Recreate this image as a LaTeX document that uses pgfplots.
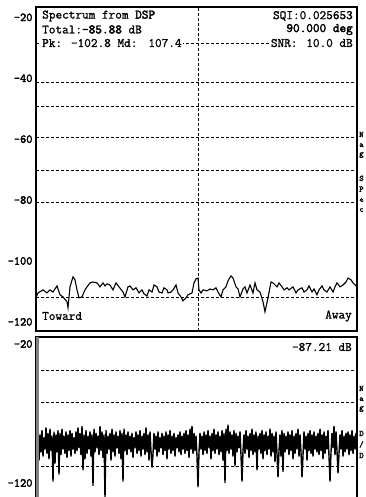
\documentclass[border=0pt]{standalone}
\usepackage{fontspec}
\setmainfont{Latin Modern Mono}[FakeBold=1.2]
\newfontfamily\heavy{Latin Modern Mono}[FakeBold=2.6]
\usepackage{pgfplots}
\pgfplotsset{compat=1.18}
\pgfplotstableread{
x y
0 -112.1
2 -110.5
7 -109.5
11 -110.5
14 -109.5
17 -110.2
21 -108.2
24 -111.1
27 -111.8
31 -113.4
32 -115.4
34 -108.5
37 -105.2
39 -106.2
41 -109.5
43 -112.1
46 -111.8
49 -109.5
51 -108.5
54 -107.2
57 -106.9
61 -107.2
64 -108.5
67 -107.2
69 -108.2
71 -107.5
74 -107.9
77 -109.5
80 -107.2
83 -108.5
87 -110.2
89 -111.8
92 -108.5
94 -108.2
97 -109.5
100 -108.8
103 -110.5
106 -109.5
108 -110.8
111 -111.5
113 -109.5
116 -110.2
118 -107.9
121 -108.5
123 -110.2
126 -110.5
128 -108.8
131 -109.5
132 -110.5
135 -110.2
137 -109.5
140 -107.9
142 -110.5
145 -111.8
147 -113.1
150 -112.1
152 -111.1
156 -110.5
158 -107.2
160 -105.9
162 -105.6
163 -109.5
165 -110.5
167 -109.5
171 -109.8
174 -109.2
177 -109.5
180 -108.8
182 -110.2
185 -111.8
187 -109.5
190 -108.5
192 -106.5
195 -104.9
197 -105.6
200 -108.5
202 -109.2
204 -111.8
207 -109.2
209 -108.5
211 -110.5
214 -107.9
217 -110.5
219 -107.2
221 -109.5
224 -110.2
227 -113.4
229 -116.7
232 -112.1
235 -106.9
237 -107.2
241 -108.5
243 -107.2
246 -108.5
248 -109.5
251 -108.8
253 -109.5
257 -108.5
260 -110.5
262 -109.5
266 -108.8
268 -110.2
271 -109.5
273 -108.2
276 -110.2
278 -109.2
281 -111.1
283 -109.5
286 -108.2
288 -109.5
291 -110.2
294 -108.5
297 -110.2
299 -108.5
301 -107.2
304 -108.5
307 -107.9
310 -106.9
312 -105.6
315 -106.2
317 -107.2
321 -108.5
}\toptrace
\pgfplotstableread{
x y
0 -86
1 -100
2 -83
3 -104
4 -85
5 -98
6 -82
7 -101
8 -87
9 -96
10 -80
11 -99
12 -84
13 -103
14 -81
15 -97
16 -86
17 -119
18 -83
19 -106
20 -85
21 -98
22 -82
23 -114
24 -84
25 -100
26 -81
27 -96
28 -86
29 -99
30 -83
31 -102
32 -85
33 -97
34 -82
35 -101
36 -84
37 -96
38 -87
39 -99
40 -83
41 -97
42 -80
43 -95
44 -84
45 -100
46 -79
47 -111
48 -85
49 -103
50 -82
51 -99
52 -86
53 -96
54 -83
55 -101
56 -85
57 -122
58 -81
59 -98
60 -84
61 -95
62 -86
63 -100
64 -79
65 -97
66 -83
67 -102
68 -85
69 -131
70 -82
71 -99
72 -86
73 -96
74 -84
75 -104
76 -81
77 -98
78 -85
79 -101
80 -83
81 -95
82 -86
83 -99
84 -82
85 -103
86 -84
87 -119
88 -81
89 -97
90 -85
91 -100
92 -83
93 -96
94 -86
95 -98
96 -84
97 -102
98 -87
99 -95
100 -83
101 -99
102 -85
103 -97
104 -82
105 -101
106 -86
107 -96
108 -84
109 -100
110 -80
111 -98
112 -85
113 -104
114 -83
115 -97
116 -109
117 -99
118 -84
119 -96
120 -86
121 -101
122 -83
123 -98
124 -87
125 -95
126 -84
127 -100
128 -86
129 -97
130 -83
131 -103
132 -85
133 -96
134 -82
135 -99
136 -86
137 -97
138 -84
139 -101
140 -87
141 -95
142 -85
143 -98
144 -83
145 -100
146 -86
147 -96
148 -84
149 -99
150 -82
151 -97
152 -85
153 -102
154 -81
155 -96
156 -79
157 -99
158 -84
159 -97
160 -86
161 -101
162 -123
163 -98
164 -84
165 -96
166 -86
167 -100
168 -83
169 -97
170 -85
171 -99
172 -82
173 -95
174 -86
175 -103
176 -84
177 -97
178 -81
179 -99
180 -85
181 -96
182 -83
183 -100
184 -86
185 -98
186 -82
187 -104
188 -84
189 -120
190 -81
191 -97
192 -78
193 -99
194 -83
195 -96
196 -85
197 -101
198 -82
199 -108
200 -84
201 -98
202 -86
203 -95
204 -83
205 -100
206 -119
207 -97
208 -85
209 -99
210 -82
211 -96
212 -86
213 -102
214 -84
215 -97
216 -81
217 -100
218 -85
219 -98
220 -83
221 -111
222 -86
223 -96
224 -84
225 -99
226 -82
227 -103
228 -85
229 -97
230 -83
231 -100
232 -86
233 -96
234 -81
235 -101
236 -84
237 -98
238 -86
239 -105
240 -83
241 -99
242 -116
243 -97
244 -85
245 -101
246 -82
247 -112
248 -84
249 -98
250 -86
251 -96
252 -83
253 -100
254 -85
255 -97
256 -82
257 -103
258 -86
259 -99
260 -84
261 -96
262 -81
263 -101
264 -85
265 -98
266 -116
267 -100
268 -83
269 -96
270 -86
271 -104
272 -84
273 -97
274 -82
275 -99
276 -85
277 -101
278 -83
279 -96
280 -86
281 -98
282 -84
283 -100
284 -81
285 -97
286 -85
287 -103
288 -83
289 -99
290 -86
291 -96
292 -82
293 -101
294 -119
295 -98
296 -84
297 -95
298 -79
299 -100
300 -83
301 -97
302 -113
303 -99
304 -85
305 -96
306 -82
307 -101
308 -86
309 -98
310 -84
311 -96
312 -83
313 -100
314 -85
315 -97
316 -82
317 -99
318 -86
319 -96
320 -84
321 -98
}\bottrace
\pgfplotsset{
  monitor/.style={
    scale only axis, width=321pt, xmin=0, xmax=321,
    xtick=\empty, tick style={draw=none},
    axis line style={line width=1.3pt},
    /pgf/number format/assume math mode=true,
    yticklabel style={font=\heavy\fontsize{12}{12}\selectfont, xshift=0pt},
    major grid style={black, line width=0.7pt, dash pattern=on 3pt off 2pt},
    extra tick style={grid=major},
    extra y tick labels={},
    clip=true,
  }
}
\begin{document}
\begin{tikzpicture}[x=1pt,y=1pt]
\useasboundingbox (0,0) rectangle (365,-497);
\clip (0,0) rectangle (365,-497);
\fill[white] (0,0) rectangle (365,-497);
\begin{axis}[monitor, at={(36pt,-7pt)}, anchor=north west, height=324pt,
  ymin=-123, ymax=-16.6, ytick={-20,-40,-60,-80,-100,-120},
  extra y ticks={-28.6,-41.2,-49.1,-59.3,-70.1,-80.6,-112.1},
  extra x ticks={162}, extra x tick labels={}]
\addplot[black, line width=1.1pt] table[x=x,y=y] {\toptrace};
\end{axis}
\begin{axis}[monitor, at={(36pt,-337pt)}, anchor=north west, height=170pt,
  ymin=-137.3, ymax=-15, ytick={-20,-120},
  extra y ticks={-38.7,-61.7,-107.8}]
\addplot[black, line width=1.4pt] table[x=x,y=y] {\bottrace};
\end{axis}
\draw[gray, line width=2.5pt] (37.5,-337) -- (37.5,-497);
\begin{scope}[every node/.style={inner sep=1pt, font=\fontsize{12.9}{13}\selectfont}]
\node[anchor=west] at (41,-16) {Spectrum from {\heavy DSP}};
\node[anchor=west] at (41,-29.5) {Total:{\heavy -85.88} dB};
\node[anchor=west, fill=white] at (41,-43) {Pk: -102.8 Md: \,107.4};
\node[anchor=east] at (354,-16) {SQI:0.025653};
\node[anchor=east] at (354,-29.5) {{\heavy 90.000 deg}};
\node[anchor=east, fill=white] at (354,-43) {SNR: \,10.0 dB};
\node[anchor=west] at (41,-316) {Toward};
\node[anchor=east] at (353,-316) {Away};
\node[anchor=east] at (353,-347) {-87.21 dB};
\end{scope}
\begin{scope}[every node/.style={inner sep=0pt, anchor=base west, font=\fontsize{8.5}{8.5}\selectfont}]
\node at (359,-137) {N};
\node at (359,-147) {a};
\node at (359,-156) {g};
\node at (359,-181) {S};
\node at (359,-190) {p};
\node at (359,-202) {e};
\node at (359,-212) {c};
\node at (359,-391) {N};
\node at (359,-401) {a};
\node at (359,-410) {g};
\node at (359,-436) {D};
\node at (359,-447) {/};
\node at (359,-458) {D};
\end{scope}
\end{tikzpicture}
\end{document}
